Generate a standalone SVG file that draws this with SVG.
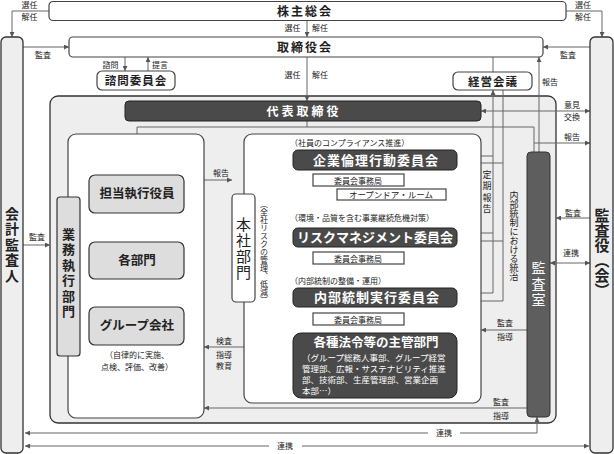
<svg xmlns="http://www.w3.org/2000/svg" width="614" height="454" viewBox="0 0 614 454">
<defs>
<marker id="ah" viewBox="0 0 6 6" refX="6" refY="3" markerWidth="5" markerHeight="5" orient="auto-start-reverse" markerUnits="userSpaceOnUse">
<path d="M0,0 L6,3 L0,6 z" fill="#555"/>
</marker>
<style>
text{font-family:"Noto Sans CJK JP","Noto Sans CJK SC",sans-serif;fill:#222}
.box{fill:#fff;stroke:#444;stroke-width:1.2}
.side{fill:#eee;stroke:#333;stroke-width:1.3}
.dark{fill:#4a4a4a;stroke:#222;stroke-width:1}
.lg{fill:#ddd;stroke:#333;stroke-width:1.2}
.ln{fill:none;stroke:#666;stroke-width:1}
.arr{marker-end:url(#ah)}
.arr2{marker-start:url(#ah);marker-end:url(#ah)}
.ttl{font-size:12px;font-weight:bold;letter-spacing:2px;text-anchor:middle}
.nd{font-size:12.5px;font-weight:bold;text-anchor:middle}
.cm{font-size:13px;font-weight:bold;text-anchor:middle;fill:#fff}
.lb{font-size:8px;text-anchor:middle}
.sm{font-size:8px}
.w{fill:#fff}
.v{writing-mode:vertical-rl;text-anchor:middle}
</style>
</defs>

<g id="outer-frame">
<rect x="50" y="96" width="506" height="327" rx="8" class="side" stroke-width="1.5"/>
</g>

<g id="connectors">
<path class="ln arr" d="M49,11 H12 V37"/>
<path class="ln arr" d="M566,11 H602 V37"/>
<path class="ln arr" d="M307,20 V37"/>
<path class="ln arr" d="M307,57 V101"/>
<path class="ln arr" d="M23,47 H69"/>
<path class="ln arr" d="M590,47 H543"/>
<path class="ln arr" d="M125,57 V71"/>
<path class="ln arr" d="M148,71 V57"/>
<path class="ln" d="M493,57 V72"/>
<path class="ln arr" d="M539,152 V57"/>
<path class="ln arr2" d="M481,111 H590"/>
<path class="ln" d="M307,121 V127 H137 V175"/>
<path class="ln" d="M307,127 H534 V152"/>
<path class="ln arr" d="M534,143 H590"/>
<path class="ln" d="M137,213 V242"/>
<path class="ln arr" d="M23,245 H50"/>
<path class="ln arr" d="M204,180 H232"/>
<path class="ln arr" d="M244,347 H204"/>
<path class="ln arr" d="M527,330 H481"/>
<path class="ln arr" d="M527,408 H204"/>
<path class="ln arr" d="M590,218 H556"/>
<path class="ln arr2" d="M550,263 H590"/>
<path class="ln arr2" d="M25,433 H428 M460,433 H537 V417"/>
<path class="ln arr2" d="M25,446 H269 M302,446 H589"/>
<path class="ln arr" d="M457,156 H493 V293 H457 M493,233 H457 M493,156 V90"/>
<path class="ln" d="M503,90 V301"/>
<path class="ln arr" d="M503,163 H461"/>
<path class="ln arr" d="M503,241 H461"/>
<path class="ln arr" d="M503,301 H461"/>
<path class="ln" d="M309,170 V180 H313"/>
<path class="ln" d="M332,186 V195 H337"/>
<path class="ln" d="M309,247 V258 H313"/>
<path class="ln" d="M309,307 V319 H313"/>
</g>

<g id="kabunushi">
<rect x="49" y="1.5" width="517" height="19" rx="4" class="box"/>
<text x="305" y="16" class="ttl">株主総会</text>
</g>
<g id="torishimariyakukai">
<rect x="69" y="37" width="474" height="20" rx="4" class="box"/>
<text x="305" y="52" class="ttl">取締役会</text>
</g>
<g id="kaikei-kansanin">
<rect x="1" y="37" width="22" height="416" rx="5" class="side"/>
<text x="12" y="245" class="v" style="font-size:14px;font-weight:bold;letter-spacing:1.5px">会計監査人</text>
</g>
<g id="kansayaku">
<rect x="590" y="37" width="23" height="416" rx="5" class="side"/>
<text x="602" y="253" class="v" style="font-size:15px;font-weight:bold">監査役（会）</text>
</g>
<g id="shimon">
<rect x="97" y="71" width="78" height="19" rx="5" class="box"/>
<text x="136" y="85" class="nd" style="font-size:11.5px;letter-spacing:1px">諮問委員会</text>
</g>
<g id="keiei-kaigi">
<rect x="453" y="72" width="79" height="18" rx="5" class="box"/>
<text x="493" y="85.5" class="nd" style="font-size:11.5px;letter-spacing:1px">経営会議</text>
</g>
<g id="daihyo">
<rect x="125" y="101" width="356" height="20" rx="4" class="dark"/>
<text x="304" y="116" class="ttl w" style="letter-spacing:3px">代表取締役</text>
</g>
<g id="gyomu-area">
<rect x="68" y="134" width="136" height="284" rx="8" class="box"/>
</g>
<g id="compliance-area">
<rect x="244" y="134" width="237" height="269" rx="8" class="box"/>
</g>
<g id="gyomu-shikko">
<rect x="57" y="197" width="23" height="159" rx="3" class="lg"/>
<text x="68.5" y="274" class="v" style="font-size:13px;font-weight:bold;letter-spacing:2.5px">業務執行部門</text>
</g>
<g id="tanto">
<rect x="89" y="175" width="95" height="38" rx="6" class="lg"/>
<text x="137" y="198" class="nd">担当執行役員</text>
</g>
<g id="kakubumon">
<rect x="89" y="242" width="95" height="37" rx="6" class="lg"/>
<text x="137" y="265" class="nd">各部門</text>
</g>
<g id="group">
<rect x="89" y="307" width="95" height="38" rx="6" class="lg"/>
<text x="137" y="330" class="nd">グループ会社</text>
<text x="137" y="358" class="lb">（自律的に実施、</text>
<text x="137" y="370" class="lb">点検、評価、改善）</text>
</g>
<g id="honsha">
<rect x="232" y="194" width="23" height="108" rx="4" class="box"/>
<text x="243.5" y="249" class="v" style="font-size:15px;letter-spacing:1px">本社部門</text>
<text x="264" y="252" class="v" style="font-size:8px">（全社リスクの管理、低減）</text>
</g>
<g id="kigyo-rinri">
<text x="290" y="146" class="sm">（社員のコンプライアンス推進）</text>
<rect x="293" y="150" width="164" height="20" rx="5" class="dark"/>
<text x="376" y="165" class="cm" style="letter-spacing:1px">企業倫理行動委員会</text>
<rect x="313" y="174" width="91" height="12" class="box" stroke-width="1"/>
<text x="358" y="183.5" class="lb">委員会事務局</text>
<rect x="337" y="189" width="109" height="11" class="box" stroke-width="1"/>
<text x="391" y="198" class="lb" style="font-size:8.5px">オープンドア・ルーム</text>
</g>
<g id="risk">
<text x="290" y="221" class="sm">（環境・品質を含む事業継続危機対策）</text>
<rect x="293" y="228" width="164" height="19" rx="5" class="dark"/>
<text x="375" y="242" class="cm">リスクマネジメント委員会</text>
<rect x="313" y="252" width="91" height="12" class="box" stroke-width="1"/>
<text x="358" y="261.5" class="lb">委員会事務局</text>
</g>
<g id="naibu-tosei">
<text x="290" y="284" class="sm">（内部統制の整備・運用）</text>
<rect x="293" y="288" width="164" height="19" rx="5" class="dark"/>
<text x="377" y="302" class="cm" style="letter-spacing:1px">内部統制実行委員会</text>
<rect x="313" y="313" width="91" height="12" class="box" stroke-width="1"/>
<text x="358" y="322.5" class="lb">委員会事務局</text>
</g>
<g id="shukan">
<rect x="293" y="333" width="164" height="65" rx="8" class="dark"/>
<text x="376" y="347" class="cm" style="font-size:12.5px">各種法令等の主管部門</text>
<text x="302" y="361" class="sm w" style="font-size:8.5px">（グループ総務人事部、グループ経営</text>
<text x="302" y="372" class="sm w" style="font-size:8.5px">管理部、広報・サステナビリティ推進</text>
<text x="302" y="383" class="sm w" style="font-size:8.5px">部、技術部、生産管理部、営業企画</text>
<text x="302" y="394" class="sm w" style="font-size:8.5px">本部…）</text>
</g>
<g id="kansashitsu">
<rect x="527" y="152" width="23" height="265" rx="4" fill="#5e5e5e" stroke="#333" stroke-width="1"/>
<text x="538.5" y="285" class="v w" style="font-size:14px;letter-spacing:2px">監査室</text>
</g>

<g id="labels">
<text x="29.5" y="8" class="lb">選任</text>
<text x="29.5" y="20" class="lb">解任</text>
<text x="583" y="8" class="lb">選任</text>
<text x="583" y="20" class="lb">解任</text>
<text x="292.5" y="31" class="lb">選任</text>
<text x="320" y="31" class="lb">解任</text>
<text x="292.5" y="78" class="lb">選任</text>
<text x="320" y="78" class="lb">解任</text>
<text x="43" y="58" class="lb">監査</text>
<text x="568" y="58" class="lb">監査</text>
<text x="110.5" y="68" class="lb">諮問</text>
<text x="160" y="68" class="lb">提言</text>
<text x="550" y="85" class="lb">報告</text>
<text x="572" y="108" class="lb">意見</text>
<text x="572" y="120" class="lb">交換</text>
<text x="572" y="140" class="lb">報告</text>
<text x="573" y="216" class="lb">監査</text>
<text x="571" y="256" class="lb">連携</text>
<text x="37" y="240" class="lb">監査</text>
<text x="221" y="176" class="lb">報告</text>
<text x="224" y="344" class="lb">検査</text>
<text x="224" y="358" class="lb">指導</text>
<text x="224" y="369" class="lb">教育</text>
<text x="505" y="326" class="lb">監査</text>
<text x="505" y="340" class="lb">指導</text>
<text x="501" y="405" class="lb">監査</text>
<text x="501" y="419" class="lb">指導</text>
<text x="444" y="436" class="lb">連携</text>
<text x="285" y="449" class="lb">連携</text>
<text x="487" y="193" class="v" style="font-size:9px;letter-spacing:2.5px">定期報告</text>
<text x="514" y="236" class="v" style="font-size:9px">内部統制における統治</text>
</g>
</svg>
